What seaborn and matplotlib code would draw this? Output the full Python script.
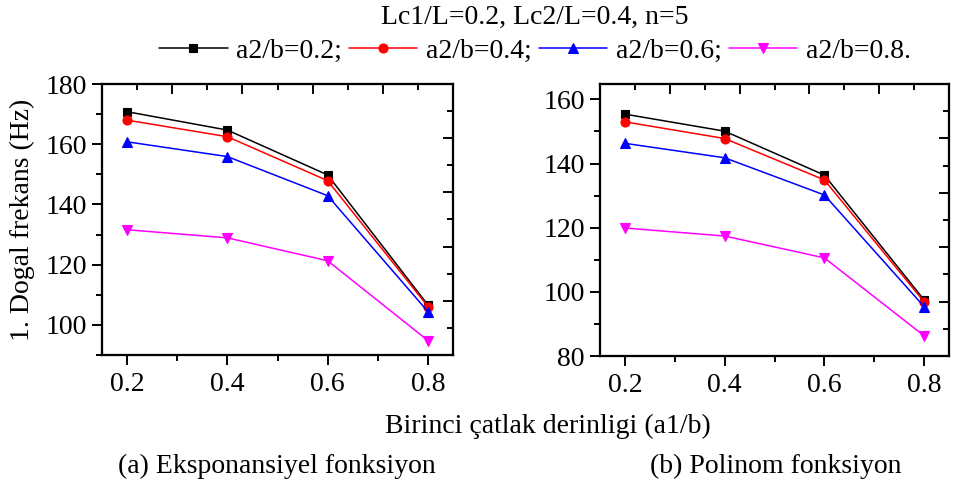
import numpy as np
import pandas as pd
import matplotlib
matplotlib.use("Agg")
import matplotlib.pyplot as plt
from matplotlib.ticker import MultipleLocator
import seaborn as sns

# crack depth ratio of the first crack
a1_b = [0.2, 0.4, 0.6, 0.8]
series_labels = ["a2/b=0.2;", "a2/b=0.4;", "a2/b=0.6;", "a2/b=0.8."]

# first natural frequency (Hz), exponential function
exp_a2_02 = [170.8, 164.7, 149.8, 106.6]
exp_a2_04 = [168.0, 162.5, 147.9, 106.1]
exp_a2_06 = [160.8, 155.9, 142.9, 104.4]
exp_a2_08 = [131.6, 128.9, 121.3, 94.8]

# first natural frequency (Hz), polynomial function
pol_a2_02 = [155.4, 150.1, 136.4, 97.5]
pol_a2_04 = [153.0, 147.8, 134.9, 96.9]
pol_a2_06 = [146.3, 141.8, 130.2, 95.4]
pol_a2_08 = [119.9, 117.4, 110.6, 86.3]

colors = ["#000000", "#FF0000", "#0000FF", "#FF00FF"]
markers = ["s", "o", "^", "v"]
msizes = [5.5, 6.5, 7.5, 7.5]


def long_table(values):
    rows = []
    for lab, vals in zip(series_labels, values):
        for x, y in zip(a1_b, vals):
            rows.append({"a1/b": x, "f": y, "series": lab})
    return pd.DataFrame(rows)


df_exp = long_table([exp_a2_02, exp_a2_04, exp_a2_06, exp_a2_08])
df_pol = long_table([pol_a2_02, pol_a2_04, pol_a2_06, pol_a2_08])

sns.set_theme(style="ticks")
plt.rcParams["font.family"] = ["Liberation Serif", "DejaVu Serif"]
plt.rcParams.update({"text.color": "black", "axes.labelcolor": "black",
                     "xtick.color": "black", "ytick.color": "black",
                     "axes.edgecolor": "black"})

fig = plt.figure(figsize=(9.57, 4.88), dpi=100)
ax1 = fig.add_axes([102 / 957, 1 - 355 / 488, 351 / 957, 271 / 488])
ax2 = fig.add_axes([600 / 957, 1 - 356 / 488, 349 / 957, 272 / 488])

FS = 20
TW = 1.4


def draw(ax, df, ylim, major, minor):
    for lab, c, m, ms in zip(series_labels, colors, markers, msizes):
        sub = df[df["series"] == lab]
        sns.lineplot(data=sub, x="a1/b", y="f", ax=ax, color=c, marker=m,
                     markersize=ms, markeredgecolor=c, markeredgewidth=0.8,
                     linewidth=1.1, label=lab, legend=False)
    ax.set_xlim(0.15, 0.85)
    ax.set_ylim(*ylim)
    ax.xaxis.set_minor_locator(MultipleLocator(0.1))
    ax.yaxis.set_major_locator(MultipleLocator(major))
    ax.yaxis.set_minor_locator(MultipleLocator(minor))
    ax.set_xticks(a1_b)
    ax.set_xticklabels([f"{v:.1f}" for v in a1_b])
    ax.set_xlabel("")
    ax.set_ylabel("")
    for s in ax.spines.values():
        s.set_visible(True)
        s.set_linewidth(1.5)
        s.set_color("black")
    ax.tick_params(which="major", direction="out", length=7, width=TW,
                   labelsize=FS, colors="black", pad=5)
    ax.tick_params(which="minor", direction="out", length=4, width=TW,
                   colors="black")
    ax.tick_params(axis="y", which="major", pad=4)
    ax.tick_params(top=False, right=False, which="both")

    # inner ticks on the opposite frame edges
    tx = ax.twinx()
    tx.set_ylim(0, 1)
    tx.yaxis.set_minor_locator(MultipleLocator(0.1))
    tx.set_yticks([0.2, 0.4, 0.6, 0.8])
    tx.set_yticklabels([])
    tx.tick_params(axis="y", which="major", direction="in", length=7,
                   width=TW, labelright=False)
    tx.tick_params(axis="y", which="minor", direction="in", length=4,
                   width=TW)
    ty = ax.twiny()
    ty.set_xlim(0, 1)
    ty.xaxis.set_minor_locator(MultipleLocator(0.1))
    ty.set_xticks([0.2, 0.4, 0.6, 0.8])
    ty.set_xticklabels([])
    ty.tick_params(axis="x", which="major", direction="in", length=7,
                   width=TW, labeltop=False)
    ty.tick_params(axis="x", which="minor", direction="in", length=4,
                   width=TW)
    for t in (tx, ty):
        for s in t.spines.values():
            s.set_linewidth(1.5)
            s.set_color("black")
        t.grid(False)


draw(ax1, df_exp, (90, 180), 20, 10)
draw(ax2, df_pol, (80, 164.8), 20, 10)

ax1.set_ylabel("1. Dogal frekans (Hz)", fontsize=FS)
ax1.yaxis.set_label_coords(-0.19, 0.5)

fig.suptitle("Lc1/L=0.2, Lc2/L=0.4, n=5", x=535 / 957, y=1 - 17 / 488,
             va="center", fontsize=FS)
handles, labels = ax1.get_legend_handles_labels()
fig.legend(handles, labels, loc="center", bbox_to_anchor=(535 / 957, 1 - 51 / 488),
           ncol=4, frameon=False, fontsize=FS, handlelength=2.45,
           handletextpad=0.32, columnspacing=0.25, borderpad=0, borderaxespad=0)

fig.text(548 / 957, 1 - 426 / 488, "Birinci çatlak derinligi (a1/b)",
         ha="center", va="center", fontsize=FS)
fig.text(277 / 957, 1 - 466 / 488, "(a) Eksponansiyel fonksiyon",
         ha="center", va="center", fontsize=FS)
fig.text(776 / 957, 1 - 466 / 488, "(b) Polinom fonksiyon",
         ha="center", va="center", fontsize=FS)

fig.savefig("out.png", dpi=100)
